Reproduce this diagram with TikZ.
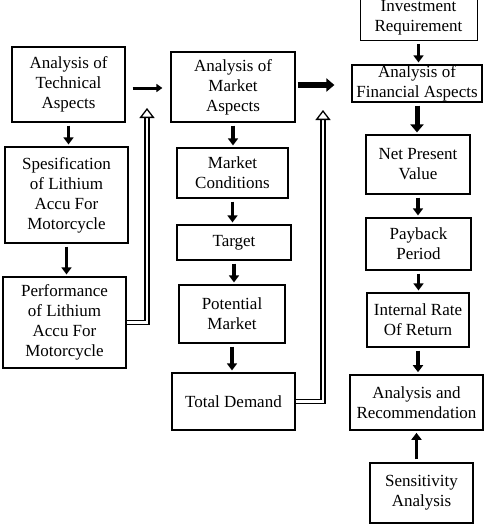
\documentclass[tikz,border=0pt]{standalone}
\usepackage{fontspec}
\setmainfont{Liberation Serif}
\usetikzlibrary{arrows.meta}
\tikzset{
  block/.style={rectangle, draw, line width=1.2pt, align=center, inner sep=0pt, font=\fontsize{17}{20}\selectfont},
  down/.style={-{Triangle[width=10pt,length=7pt]}, line width=3.5pt, shorten <=3pt, shorten >=2pt},
  feed/.style={double, double distance=2.5pt, line width=1.3pt, -{Triangle[open,width=15pt,length=10pt]}}
}
\begin{document}
\begin{tikzpicture}[x=1pt, y=-1pt]
    \useasboundingbox (0,0) rectangle (493,525);
    % technical aspects
    \node (tech) at (68.5, 84.5) [block, minimum width=113pt, minimum height=75pt] {Analysis of\\Technical\\Aspects};
    \node (spec) at (66.5, 195) [block, minimum width=123pt, minimum height=96pt] {Spesification\\of Lithium\\Accu For\\Motorcycle};
    \node (perf) at (64.5, 322.5) [block, minimum width=123pt, minimum height=91pt] {Performance\\of Lithium\\Accu For\\Motorcycle};
    % market aspects
    \node (market) at (233, 87) [block, minimum width=124pt, minimum height=70pt] {Analysis of\\Market\\Aspects};
    \node (cond) at (232.5, 173) [block, minimum width=111pt, minimum height=50pt] {Market\\Conditions};
    \node (target) at (234, 242.5) [block, minimum width=114pt, minimum height=35pt] {Target};
    \node (potential) at (232, 314) [block, minimum width=106pt, minimum height=58pt] {Potential\\Market};
    \node (total) at (233.5, 401.5) [block, minimum width=123pt, minimum height=57pt] {Total Demand};
    % financial aspects
    \node (invest) at (418.5, 18) [block, line width=0.6pt, minimum width=117pt, minimum height=45pt] {Investment\\Requirement};
    \node (fin) at (417, 83.5) [block, minimum width=130pt, minimum height=37pt] {Analysis of\\Financial Aspects};
    \node (npv) at (418, 164.5) [block, minimum width=104pt, minimum height=59pt] {Net Present\\Value};
    \node (payback) at (418.5, 244) [block, minimum width=105pt, minimum height=52pt] {Payback\\Period};
    \node (irr) at (418, 320) [block, minimum width=102pt, minimum height=54pt] {Internal Rate\\Of Return};
    \node (recom) at (416.5, 402.5) [block, line width=1.6pt, minimum width=133pt, minimum height=55pt] {Analysis and\\Recommendation};
    \node (sens) at (421.5, 493) [block, minimum width=103pt, minimum height=60pt] {Sensitivity\\Analysis};

    \coordinate (techfeed) at (147, 108);
    \coordinate (marketfeed) at (323, 110);

    \draw[down] (tech.south) -- (tech.south |- spec.north);
    \draw[down] (spec.south) -- (spec.south |- perf.north);
    \draw[down] (market.south) -- (market.south |- cond.north);
    \draw[down] (cond.south) -- (cond.south |- target.north);
    \draw[down] (target.south) -- (target.south |- potential.north);
    \draw[down] (potential.south) -- (potential.south |- total.north);
    \draw[down, line width=3pt] (invest.south) -- (invest.south |- fin.north);
    \draw[down, line width=5pt, -{Triangle[width=13pt,length=8pt]}] (fin.south) -- (fin.south |- npv.north);
    \draw[down] (npv.south) -- (npv.south |- payback.north);
    \draw[down] (payback.south) -- (payback.south |- irr.north);
    \draw[down] (irr.south) -- (irr.south |- recom.north);
    \draw[down] (sens.north -| recom.south) -- (recom.south);

    \draw[-{Triangle[width=8pt,length=6pt]}, line width=3pt, shorten <=7pt, shorten >=8pt] (tech.east |- 0,88) -- (market.west |- 0,88);
    \draw[-{Triangle[width=13pt,length=8pt]}, line width=5.5pt, shorten <=2pt, shorten >=17pt] (market.east |- 0,85) -- (fin.west |- 0,85);

    \draw[feed] (perf.east) -- (perf.east -| techfeed) -- (techfeed);
    \draw[feed] (total.east) -- (total.east -| marketfeed) -- (marketfeed);
\end{tikzpicture}
\end{document}
